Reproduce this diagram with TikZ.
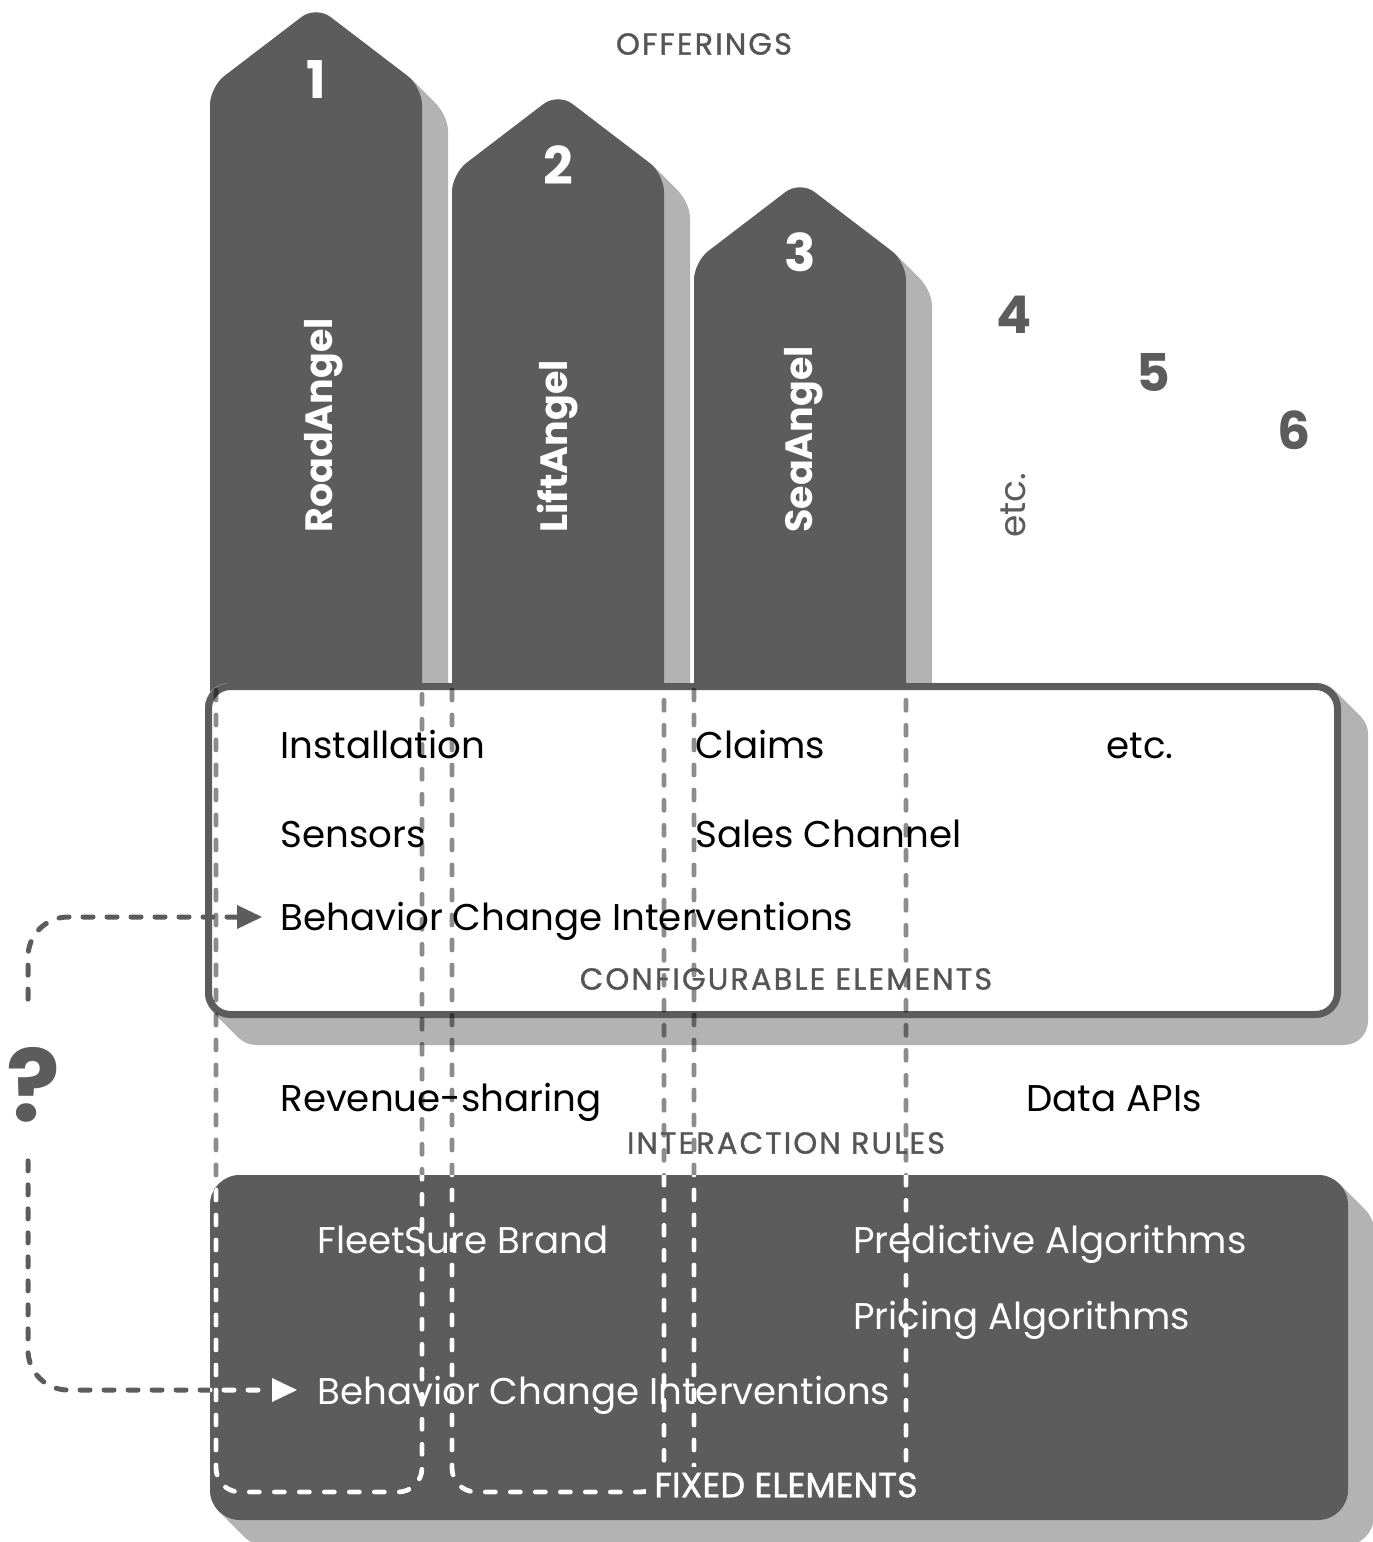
\documentclass[tikz,border=0pt]{standalone}
\usepackage{fontspec}
\setmainfont{Poppins}
\newfontfamily\capsfont[LetterSpace=7, FakeBold=1]{Poppins}
\newfontfamily\fixedfont[FakeBold=1.2]{Poppins}
\usetikzlibrary{calc}
\definecolor{ink}{HTML}{5C5C5C}
\definecolor{shadowgray}{HTML}{B3B3B3}
\definecolor{label}{HTML}{555555}

\begin{document}
\begin{tikzpicture}[x=0.5pt,y=-0.5pt,
  body/.style={font=\fontsize{18.6}{21}\selectfont, text=black, inner sep=0pt, anchor=base west},
  bodyw/.style={body, text=white},
  head/.style={font=\capsfont\fontsize{15.2}{17}\selectfont, text=label, inner sep=0pt},
  num/.style={font=\bfseries\fontsize{26}{28}\selectfont, inner sep=0pt},
  vert/.style={font=\bfseries\fontsize{19}{22}\selectfont, text=white, rotate=90, anchor=base west, inner sep=0pt},
  guide/.style={draw=black, draw opacity=0.45, line width=2.4pt, line cap=round, dash pattern=on 5pt off 7.5pt},
  guidew/.style={draw=white, line width=2.4pt, line cap=round, dash pattern=on 5pt off 7.5pt},
  loopline/.style={draw=ink, line width=2.5pt, line cap=round, dash pattern=on 5pt off 7pt, rounded corners=20pt},
]
\useasboundingbox (0,0) rectangle (1372,1542);

% ---- offering pillars: shadows first, then the dark shapes
\foreach \L/\A in {210/6, 452/93, 694/181}{
  \foreach \d in {0,1,...,26}{
    \fill[shadowgray, shift={(\d,\d)}] (\L,690) -- (\L,400) [rounded corners=9pt] -- (\L,\A+81) -- (\L+106,\A) -- (\L+212,\A+81) -- (\L+212,400) [sharp corners] -- (\L+212,690) -- cycle;
  }
}
\foreach \L/\A in {210/6, 452/93, 694/181}{
  \fill[ink] (\L,692) -- (\L,400) [rounded corners=9pt] -- (\L,\A+81) -- (\L+106,\A) -- (\L+212,\A+81) -- (\L+212,400) [sharp corners] -- (\L+212,692) -- cycle;
}

% ---- configurable elements box
\foreach \d in {0,1,...,27}{
  \fill[shadowgray, rounded corners=12pt, shift={(\d,\d)}] (205,683) rectangle (1341,1018);
}
\draw[ink, fill=white, line width=3.5pt, rounded corners=11pt] (208.5,686.5) rectangle (1337.5,1014.5);

% ---- fixed elements box
\foreach \d in {0,1,...,26}{
  \fill[shadowgray, rounded corners=15pt, shift={(\d,\d)}] (210,1175) rectangle (1348,1520);
}
\fill[ink, rounded corners=15pt] (210,1175) rectangle (1348,1520);

% ---- pillar guides running down through both boxes
\foreach \l/\r in {216/422, 452/664, 694/906}{
  \draw[guide, rounded corners=12pt] (\l,690) -- (\l,1492) -- (\r,1492) -- (\r,690);
}
\begin{scope}
  \clip[rounded corners=15pt] (210,1175) rectangle (1348,1520);
  \foreach \l/\r in {216/422, 452/664, 694/906}{
    \draw[guidew, rounded corners=12pt] (\l,690) -- (\l,1492) -- (\r,1492) -- (\r,690);
  }
\end{scope}

% ---- headings
\node[head] (offer) at (704,44) {OFFERINGS};
\node[head] (confh) at (786,979) {CONFIGURABLE ELEMENTS};
\node[head] (inter) at (786,1143) {INTERACTION RULES};
\node[font=\fixedfont\fontsize{17.5}{19}\selectfont, text=white, fill=ink, inner xsep=4pt, inner ysep=3pt] (fixh) at (786,1485) {FIXED ELEMENTS};

% ---- pillar numbers and names
\node[num, text=white] (n1) at (316,80) {1};
\node[num, text=white] (n2) at (558,165) {2};
\node[num, text=white] (n3) at (800,252) {3};
\node[num, text=ink] (n4) at (1014,315) {4};
\node[num, text=ink] (n5) at (1153,372) {5};
\node[num, text=ink] (n6) at (1294,430) {6};
\node[vert] (road) at (332,533) {RoadAngel};
\node[vert] (lift) at (567,533) {LiftAngel};
\node[vert] (sea) at (812,533) {SeaAngel};
\node[font=\fontsize{18}{20}\selectfont, text=ink, rotate=90, anchor=base west, inner sep=0pt] (etcv) at (1025,538) {etc.};

% ---- configurable elements
\node[body] (inst) at (280,758) {Installation};
\node[body] (sens) at (280,847) {Sensors};
\node[body] (bciC) at (280,930) {Behavior Change Interventions};
\node[body] (claim) at (695,758) {Claims};
\node[body] (sales) at (695,847) {Sales Channel};
\node[body] (etch) at (1106,758) {etc.};

% ---- interaction rules
\node[body] (rev) at (280,1111) {Revenue-sharing};
\node[body] (api) at (1026,1111) {Data APIs};

% ---- fixed elements
\node[bodyw] (brand) at (317,1253) {FleetSure Brand};
\node[bodyw] (pred) at (853,1253) {Predictive Algorithms};
\node[bodyw] (price) at (853,1329) {Pricing Algorithms};
\node[bodyw] (bciF) at (317,1404) {Behavior Change Interventions};

% ---- the open question: which interventions are configurable, which fixed
\node[font=\bfseries\fontsize{50}{52}\selectfont, text=ink, inner sep=0pt] (qm) at (33,1085) {?};
\coordinate (upBase) at (237,917);
\coordinate (lowBase) at (272,1390);
\draw[loopline] (upBase) -- (28,917) -- ($(qm.north)+(-5,-36)$);
\draw[loopline] ($(qm.south)+(-5,38)$) -- (28,1390) -- (lowBase);
\begin{scope}
  \clip[rounded corners=15pt] (210,1175) rectangle (1348,1520);
  \draw[loopline, draw=white] ($(qm.south)+(-5,38)$) -- (28,1390) -- (lowBase);
\end{scope}
\fill[ink] (upBase) ++(0,-12) -- ++(25,12) -- ++(-25,12) -- cycle;
\fill[white] (lowBase) ++(0,-12) -- ++(25,12) -- ++(-25,12) -- cycle;
\end{tikzpicture}
\end{document}
